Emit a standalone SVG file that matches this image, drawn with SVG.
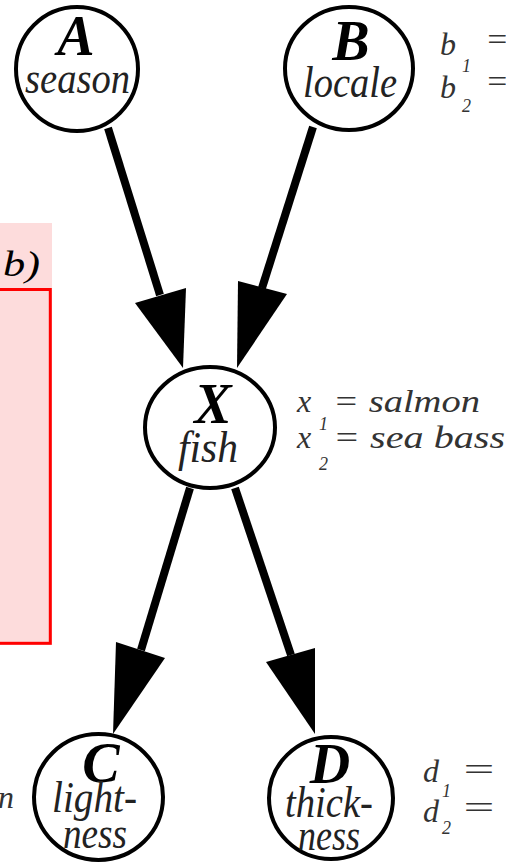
<svg xmlns="http://www.w3.org/2000/svg" width="506" height="862" viewBox="0 0 506 862">
<style>
.n{fill:#fff;stroke:#000;stroke-width:4}
.t{font-family:"Liberation Serif",serif;font-style:italic;fill:#000}
.cap{font-size:56px;font-weight:bold;text-anchor:middle}
.lo{font-size:44px;fill:#222}
.lab{font-family:"Liberation Serif",serif;font-style:italic;fill:#333;font-size:32px}
.sub{font-family:"Liberation Serif",serif;font-style:italic;fill:#333;font-size:18px}
.ln{stroke:#000;stroke-width:8;fill:none}
.ah{fill:#000;stroke:none}
</style>
<rect x="0" y="0" width="506" height="862" fill="#fff"/>
<g id="pinkbox">
<rect x="0" y="223" width="52" height="422" fill="#fddcdc"/>
<rect x="-5" y="289.5" width="55.3" height="353.8" fill="none" stroke="#ff0000" stroke-width="3"/>
<text class="t" x="3" y="276" font-size="36" textLength="37" lengthAdjust="spacingAndGlyphs" fill="#333">b)</text>
</g>
<g id="connectors">
<line class="ln" x1="108" y1="128" x2="160" y2="295"/>
<polygon class="ah" points="135,303 186,288 183,368"/>
<line class="ln" x1="313" y1="127" x2="262" y2="288"/>
<polygon class="ah" points="238,281 287,294 237,368"/>
<line class="ln" x1="190" y1="488" x2="141" y2="650"/>
<polygon class="ah" points="116,642 165,658 113,734"/>
<line class="ln" x1="235" y1="488" x2="291" y2="655"/>
<polygon class="ah" points="266,662 315,648 315,734"/>
</g>
<g id="node-A">
<ellipse class="n" cx="77" cy="69" rx="61" ry="62"/>
<text class="t cap" x="76" y="55">A</text>
<text class="t lo" x="25" y="93" textLength="105" lengthAdjust="spacingAndGlyphs">season</text>
</g>
<g id="node-B">
<ellipse class="n" cx="349" cy="68.5" rx="64" ry="61.5"/>
<text class="t cap" x="351" y="60">B</text>
<text class="t lo" x="303" y="97" textLength="94" lengthAdjust="spacingAndGlyphs">locale</text>
</g>
<g id="node-X">
<ellipse class="n" cx="210" cy="427.5" rx="65" ry="60.5"/>
<text class="t cap" x="213" y="423">X</text>
<text class="t lo" x="178" y="462" textLength="60" lengthAdjust="spacingAndGlyphs">fish</text>
</g>
<g id="node-C">
<ellipse class="n" cx="98.5" cy="797" rx="64.5" ry="63"/>
<text class="t cap" x="101" y="782" font-size="60">C</text>
<text class="t lo" x="52" y="812" textLength="85" lengthAdjust="spacingAndGlyphs">light-</text>
<text class="t lo" x="63" y="848" textLength="64" lengthAdjust="spacingAndGlyphs">ness</text>
</g>
<g id="node-D">
<ellipse class="n" cx="331" cy="798" rx="62" ry="61"/>
<text class="t cap" x="330" y="783">D</text>
<text class="t lo" x="285" y="817" textLength="88" lengthAdjust="spacingAndGlyphs">thick-</text>
<text class="t lo" x="298" y="850" textLength="62" lengthAdjust="spacingAndGlyphs">ness</text>
</g>
<g id="labels-b">
<text class="lab" x="440" y="55">b</text>
<text class="sub" x="462" y="72">1</text>
<text class="lab" x="485" y="50" textLength="24" lengthAdjust="spacingAndGlyphs">=</text>
<text class="lab" x="440" y="98">b</text>
<text class="sub" x="462" y="112">2</text>
<text class="lab" x="485" y="92" textLength="24" lengthAdjust="spacingAndGlyphs">=</text>
</g>
<g id="labels-x">
<text class="lab" x="297" y="412">x</text>
<text class="sub" x="319" y="430">1</text>
<text class="lab" x="333" y="412" textLength="147" lengthAdjust="spacingAndGlyphs">= salmon</text>
<text class="lab" x="297" y="448">x</text>
<text class="sub" x="319" y="470">2</text>
<text class="lab" x="333" y="448" textLength="172" lengthAdjust="spacingAndGlyphs">= sea bass</text>
</g>
<g id="labels-d">
<text class="lab" x="423" y="782">d</text>
<text class="sub" x="442" y="797">1</text>
<text class="lab" x="460" y="780" textLength="37" lengthAdjust="spacingAndGlyphs">=</text>
<text class="lab" x="423" y="822">d</text>
<text class="sub" x="442" y="834">2</text>
<text class="lab" x="460" y="818" textLength="37" lengthAdjust="spacingAndGlyphs">=</text>
</g>
<g id="labels-c">
<text class="lab" x="-2" y="808">n</text>
</g>
</svg>
